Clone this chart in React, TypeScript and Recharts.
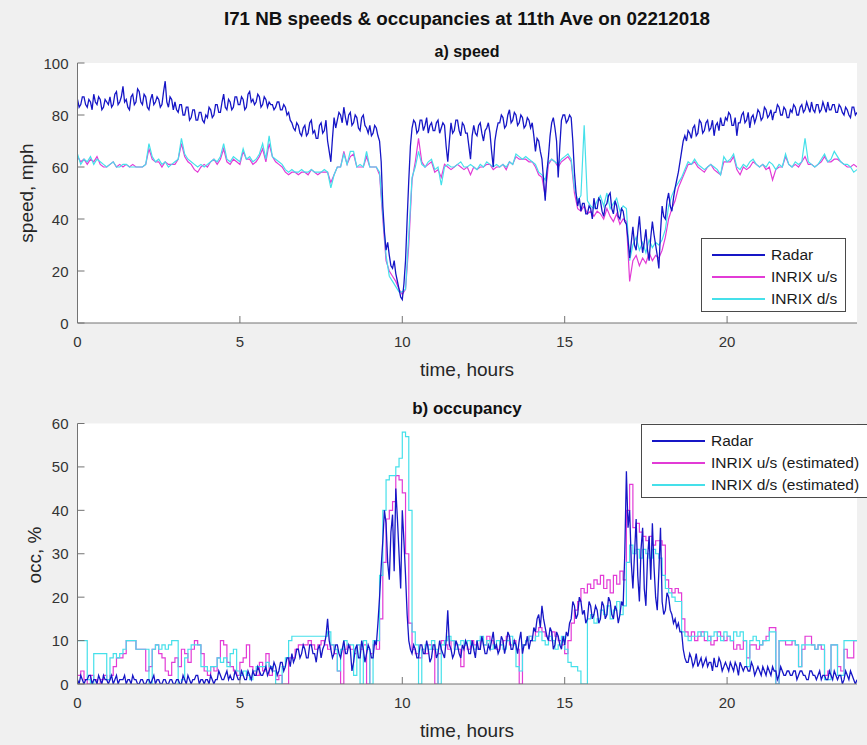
import { CartesianGrid, Line, LineChart, XAxis, YAxis } from "recharts";

// INRIX feeds are sampled every 6 minutes, the radar every 3 minutes (0:00 .. 24:00)
const HOURS = Array.from({ length: 241 }, (_, i) => i / 10);
const RADAR_HOURS = Array.from({ length: 481 }, (_, i) => i / 20);
const X_TICKS = [0, 5, 10, 15, 20];
const SPEED_TICKS = [0, 20, 40, 60, 80, 100];
const OCC_TICKS = [0, 10, 20, 30, 40, 50, 60];

// speed, mph
const speedRadar = [
  86, 83, 84, 87, 87, 84, 83, 86, 85, 82, 88, 85, 84, 87, 86, 82, 83, 86, 85, 84,
  87, 83, 84, 88, 89, 84, 85, 87, 91, 85, 86, 83, 82, 87, 88, 84, 85, 90, 89, 85,
  84, 88, 87, 83, 82, 86, 88, 84, 85, 87, 86, 83, 84, 89, 93, 85, 83, 87, 86, 82,
  85, 82, 81, 84, 84, 80, 80, 83, 83, 78, 79, 82, 82, 78, 78, 81, 81, 78, 77, 80,
  79, 83, 82, 79, 80, 84, 84, 81, 81, 85, 88, 83, 82, 86, 85, 82, 83, 87, 87, 84,
  84, 87, 86, 82, 83, 88, 89, 85, 86, 84, 85, 88, 87, 83, 84, 87, 86, 83, 85, 84,
  84, 82, 83, 85, 85, 82, 82, 84, 83, 80, 81, 78, 77, 75, 74, 77, 76, 73, 72, 75,
  76, 72, 73, 77, 78, 73, 74, 71, 71, 76, 77, 73, 74, 78, 70, 66, 62, 71, 79, 75,
  78, 81, 80, 77, 83, 79, 76, 80, 81, 76, 77, 80, 79, 75, 74, 79, 80, 76, 75, 73,
  76, 72, 73, 76, 75, 72, 70, 62, 45, 35, 28, 31, 26, 22, 21, 24, 19, 16, 13, 10,
  9, 15, 24, 40, 55, 68, 75, 78, 77, 73, 74, 78, 78, 74, 76, 79, 73, 76, 77, 74,
  74, 77, 78, 73, 75, 77, 76, 68, 62, 70, 77, 73, 74, 78, 78, 74, 72, 77, 76, 73,
  73, 68, 63, 72, 76, 73, 72, 76, 77, 73, 70, 74, 75, 77, 73, 66, 60, 70, 74, 77,
  77, 80, 79, 75, 76, 80, 82, 77, 78, 81, 80, 76, 77, 80, 79, 75, 76, 79, 78, 75,
  77, 72, 66, 71, 70, 66, 63, 55, 47, 58, 64, 72, 77, 79, 75, 70, 56, 68, 78, 80,
  80, 77, 78, 80, 79, 70, 58, 50, 45, 48, 43, 46, 46, 42, 42, 45, 44, 40, 48, 44,
  44, 48, 47, 43, 41, 45, 46, 49, 50, 44, 42, 47, 45, 41, 40, 44, 43, 39, 38, 32,
  25, 31, 37, 30, 28, 35, 41, 33, 27, 31, 36, 28, 24, 33, 39, 34, 30, 26, 21, 35,
  45, 41, 40, 47, 50, 45, 43, 48, 52, 55, 58, 62, 66, 70, 72, 70, 74, 73, 71, 75,
  76, 72, 73, 78, 77, 73, 74, 77, 78, 74, 75, 78, 72, 76, 77, 74, 79, 76, 76, 79,
  78, 81, 80, 76, 76, 79, 72, 77, 77, 80, 81, 77, 78, 81, 75, 79, 80, 77, 79, 82,
  81, 78, 79, 83, 82, 79, 80, 82, 78, 81, 81, 84, 83, 80, 80, 83, 82, 79, 79, 82,
  81, 84, 83, 80, 80, 83, 84, 81, 82, 85, 83, 81, 85, 82, 81, 84, 84, 81, 82, 85,
  83, 81, 85, 82, 82, 84, 84, 81, 81, 84, 83, 81, 80, 83, 82, 80, 79, 83, 83, 80,
  81,
];

const speedInrixUp = [
  64, 62, 63, 61, 63, 62, 64, 61, 60, 60,
  61, 62, 60, 61, 60, 61, 60, 61, 60, 60,
  60, 61, 67, 63, 62, 62, 60, 62, 61, 61,
  61, 63, 69, 64, 62, 61, 59, 58, 60, 61,
  60, 62, 63, 61, 63, 67, 62, 61, 63, 62,
  61, 66, 63, 63, 61, 62, 64, 67, 62, 69,
  64, 62, 61, 60, 58, 57, 58, 58, 57, 58,
  58, 57, 59, 58, 57, 58, 58, 58, 54, 57,
  60, 60, 66, 61, 64, 65, 60, 60, 60, 64,
  60, 60, 60, 57, 40, 24, 20, 18, 16, 13,
  11, 13, 30, 55, 62, 71, 62, 60, 61, 62,
  58, 59, 56, 61, 60, 59, 60, 61, 60, 59,
  60, 57, 60, 59, 60, 60, 61, 61, 59, 60,
  60, 61, 59, 62, 61, 64, 63, 63, 63, 62,
  62, 60, 57, 56, 49, 61, 63, 62, 60, 62,
  63, 64, 62, 50, 44, 43, 45, 42, 43, 41,
  43, 42, 40, 44, 41, 39, 42, 38, 40, 39,
  16, 24, 26, 22, 25, 23, 27, 24, 26, 25,
  28, 33, 40, 44, 47, 52, 55, 58, 61, 61,
  62, 60, 59, 58, 60, 61, 59, 58, 57, 62,
  62, 62, 64, 59, 57, 60, 59, 60, 62, 61,
  60, 61, 59, 60, 55, 59, 60, 60, 64, 61,
  60, 61, 60, 62, 64, 61, 61, 60, 61, 62,
  64, 62, 62, 63, 63, 62, 61, 60, 60, 61,
  60,
];

const speedInrixDown = [
  65, 61, 63, 62, 64, 61, 63, 62, 61, 60,
  61, 62, 60, 60, 61, 61, 60, 60, 60, 60,
  60, 61, 69, 64, 62, 63, 61, 62, 60, 61,
  62, 63, 71, 65, 63, 62, 61, 60, 61, 60,
  61, 62, 63, 62, 64, 69, 63, 62, 64, 63,
  62, 67, 63, 64, 62, 63, 65, 69, 63, 72,
  64, 63, 62, 61, 59, 58, 59, 58, 58, 59,
  58, 58, 59, 58, 58, 58, 59, 58, 52, 57,
  60, 60, 65, 61, 66, 66, 60, 61, 60, 66,
  60, 60, 60, 58, 42, 26, 18, 16, 14, 12,
  12, 13, 34, 56, 60, 66, 61, 60, 62, 63,
  59, 60, 53, 60, 61, 60, 60, 61, 62, 60,
  60, 61, 60, 59, 61, 60, 62, 61, 60, 61,
  60, 61, 60, 62, 61, 65, 64, 63, 64, 63,
  62, 61, 58, 57, 55, 62, 63, 62, 61, 63,
  64, 65, 63, 52, 47, 49, 76, 47, 45, 44,
  47, 49, 45, 50, 44, 46, 48, 43, 45, 44,
  24, 30, 33, 28, 31, 27, 32, 29, 31, 30,
  32, 36, 45, 49, 52, 54, 56, 59, 62, 61,
  63, 61, 60, 59, 60, 61, 60, 59, 57, 64,
  62, 63, 65, 60, 59, 61, 60, 62, 63, 61,
  60, 61, 60, 62, 61, 59, 61, 60, 65, 61,
  60, 62, 61, 62, 71, 62, 61, 60, 61, 63,
  65, 62, 63, 66, 64, 62, 61, 61, 60, 58,
  59,
];

// occupancy, %
const occRadar = [
  1, 0, 2, 1, 0, 1, 1, 2, 2, 0, 1, 1, 0, 2, 1, 0, 2, 1, 1, 0,
  1, 2, 0, 1, 2, 0, 1, 1, 1, 2, 0, 1, 1, 0, 2, 1, 1, 0, 0, 1,
  1, 0, 0, 1, 1, 0, 1, 2, 0, 1, 1, 0, 0, 1, 1, 0, 0, 1, 1, 0,
  0, 1, 1, 0, 0, 2, 1, 0, 2, 1, 0, 1, 1, 2, 2, 0, 1, 1, 0, 1,
  1, 0, 2, 1, 0, 1, 1, 3, 2, 1, 1, 2, 3, 1, 2, 1, 1, 3, 2, 1,
  1, 3, 2, 1, 1, 3, 2, 1, 3, 2, 2, 4, 3, 2, 2, 3, 4, 2, 3, 4,
  3, 5, 4, 2, 3, 5, 5, 3, 4, 6, 6, 4, 7, 5, 6, 8, 8, 6, 7, 9,
  8, 6, 6, 9, 9, 7, 7, 5, 8, 9, 6, 8, 9, 11, 15, 10, 8, 6, 7, 9,
  9, 7, 6, 8, 10, 7, 7, 9, 8, 3, 5, 8, 9, 6, 6, 10, 8, 5, 7, 9,
  8, 6, 6, 10, 9, 14, 20, 27, 33, 40, 37, 28, 24, 35, 39, 26, 45, 38, 30, 22,
  40, 33, 25, 16, 10, 8, 7, 9, 8, 6, 6, 9, 9, 7, 7, 10, 8, 5, 6, 9,
  9, 6, 7, 10, 8, 7, 6, 10, 17, 9, 8, 6, 7, 10, 9, 7, 6, 9, 8, 10,
  9, 7, 7, 10, 8, 6, 10, 8, 8, 11, 9, 7, 7, 9, 8, 10, 12, 8, 9, 7,
  8, 11, 10, 7, 9, 12, 11, 8, 8, 10, 9, 7, 10, 12, 7, 9, 9, 11, 8, 10,
  10, 13, 12, 15, 16, 13, 18, 15, 13, 11, 10, 13, 12, 8, 9, 12, 11, 9, 8, 11,
  9, 12, 11, 14, 15, 19, 18, 15, 16, 20, 19, 16, 17, 14, 15, 19, 18, 15, 16, 18,
  17, 14, 15, 19, 18, 15, 16, 20, 19, 16, 15, 18, 17, 14, 16, 19, 18, 30, 49, 36,
  40, 28, 22, 30, 38, 25, 19, 31, 36, 22, 18, 29, 34, 24, 37, 27, 20, 17, 26, 36,
  19, 16, 17, 21, 20, 17, 16, 14, 15, 13, 14, 12, 12, 8, 6, 5, 5, 7, 6, 4,
  5, 7, 4, 5, 6, 4, 5, 6, 4, 5, 5, 3, 6, 4, 4, 6, 5, 3, 4, 5,
  4, 3, 5, 4, 3, 5, 4, 2, 5, 4, 3, 4, 4, 3, 3, 5, 4, 2, 3, 4,
  3, 2, 4, 3, 2, 4, 3, 2, 4, 3, 3, 1, 2, 4, 3, 2, 2, 3, 3, 2,
  2, 3, 3, 1, 2, 3, 3, 2, 2, 1, 1, 3, 3, 2, 2, 1, 2, 3, 1, 2,
  2, 1, 1, 3, 2, 1, 3, 2, 1, 2, 2, 0, 1, 3, 2, 1, 3, 2, 1, 0,
  1,
];

const occInrixUp = [
  2, 3, 1, 0, 2, 1, 0, 1, 2, 1,
  2, 4, 6, 6, 7, 10, 10, 10, 8, 8,
  8, 3, 4, 8, 9, 7, 6, 3, 2, 5,
  6, 4, 8, 7, 5, 8, 10, 9, 7, 3,
  2, 4, 3, 6, 10, 9, 5, 4, 3, 2,
  5, 6, 9, 4, 3, 2, 5, 3, 7, 2,
  3, 1, 2, 0, 0, 6, 6, 8, 9, 9,
  9, 10, 9, 8, 9, 10, 9, 8, 9, 7,
  3, 0, 8, 9, 8, 7, 9, 8, 9, 0,
  7, 9, 8, 15, 28, 38, 40, 42, 48, 47,
  44, 30, 14, 8, 7, 6, 8, 7, 9, 8,
  0, 7, 10, 9, 8, 10, 9, 8, 4, 9,
  8, 10, 9, 8, 10, 9, 11, 10, 9, 8,
  9, 10, 11, 9, 10, 8, 0, 9, 10, 11,
  10, 12, 13, 12, 11, 10, 12, 11, 10, 9,
  7, 10, 14, 17, 19, 22, 21, 23, 22, 24,
  23, 25, 22, 24, 21, 25, 23, 26, 24, 40,
  46, 36, 37, 35, 34, 33, 34, 32, 33, 33,
  32, 24, 22, 21, 22, 21, 15, 12, 11, 12,
  10, 11, 12, 10, 11, 9, 10, 12, 11, 10,
  11, 10, 8, 9, 8, 10, 6, 9, 9, 8,
  9, 10, 11, 13, 13, 0, 10, 10, 9, 9,
  10, 9, 4, 8, 11, 11, 9, 8, 9, 8,
  2, 3, 9, 9, 4, 3, 8, 6, 6, 10,
  10,
];

const occInrixDown = [
  10, 10, 10, 1, 0, 7, 7, 7, 7, 1,
  6, 7, 6, 7, 8, 10, 10, 10, 8, 8,
  8, 8, 0, 8, 9, 8, 9, 8, 9, 10,
  10, 0, 1, 6, 8, 9, 9, 9, 4, 4,
  3, 4, 4, 6, 5, 6, 4, 7, 8, 3,
  2, 3, 2, 1, 3, 4, 4, 4, 5, 4,
  3, 0, 0, 4, 6, 10, 11, 11, 11, 11,
  11, 11, 11, 11, 11, 11, 11, 12, 9, 8,
  3, 8, 10, 9, 9, 2, 9, 0, 10, 8,
  0, 10, 10, 25, 40, 47, 48, 48, 50, 52,
  58, 57, 40, 12, 9, 0, 8, 9, 8, 10,
  8, 0, 9, 10, 11, 10, 8, 9, 10, 9,
  10, 9, 8, 10, 11, 9, 10, 8, 9, 10,
  9, 8, 10, 11, 9, 4, 3, 9, 10, 11,
  10, 11, 12, 10, 9, 11, 10, 8, 9, 11,
  8, 5, 4, 4, 3, 0, 0, 15, 16, 14,
  15, 17, 16, 18, 15, 17, 19, 16, 18, 28,
  32, 30, 31, 29, 31, 30, 29, 31, 30, 29,
  25, 22, 21, 20, 19, 19, 12, 11, 10, 11,
  11, 12, 11, 12, 10, 11, 12, 11, 10, 12,
  11, 10, 12, 11, 12, 10, 4, 10, 11, 10,
  9, 10, 10, 12, 12, 0, 10, 10, 10, 10,
  10, 9, 4, 9, 9, 9, 9, 8, 9, 9,
  1, 1, 9, 9, 2, 2, 10, 10, 10, 10,
  10,
];

const W = 867;
const H = 745;
const FONT = '"Liberation Sans", Arial, Helvetica, sans-serif';
const AXIS = "#737373";
const TEXT = "#333333";
const RADAR = "#1616c6";
const UP = "#e23bd6";
const DOWN = "#45e0ea";
const TICK_LEN = 7;

interface InrixRow {
  t: number;
  up: number;
  down: number;
}

interface RadarRow {
  t: number;
  radar: number;
}

const speedInrixRows: InrixRow[] = HOURS.map((t, i) => ({ t, up: speedInrixUp[i], down: speedInrixDown[i] }));
const speedRadarRows: RadarRow[] = RADAR_HOURS.map((t, i) => ({ t, radar: speedRadar[i] }));
const occInrixRows: InrixRow[] = HOURS.map((t, i) => ({ t, up: occInrixUp[i], down: occInrixDown[i] }));
const occRadarRows: RadarRow[] = RADAR_HOURS.map((t, i) => ({ t, radar: occRadar[i] }));

// MATLAB-style ticks: short marks pointing into the plot box
function bottomTick({ x, y, payload }: any) {
  return (
    <g>
      <line x1={x} y1={y} x2={x} y2={y - TICK_LEN} stroke={AXIS} />
      <text x={x} y={y + 24} textAnchor="middle" fontSize={15} fill={TEXT} fontFamily={FONT}>
        {payload.value}
      </text>
    </g>
  );
}

function topTick({ x, y }: any) {
  return <line x1={x} y1={y} x2={x} y2={y + TICK_LEN} stroke={AXIS} />;
}

function leftTick({ x, y, payload }: any) {
  return (
    <g>
      <line x1={x} y1={y} x2={x + TICK_LEN} y2={y} stroke={AXIS} />
      <text x={x - 9} y={y + 5.5} textAnchor="end" fontSize={15} fill={TEXT} fontFamily={FONT}>
        {payload.value}
      </text>
    </g>
  );
}

function rightTick({ x, y }: any) {
  return <line x1={x} y1={y} x2={x - TICK_LEN} y2={y} stroke={AXIS} />;
}

interface PanelProps {
  top: number;
  height: number;
  plotTop: number;
  inrix: InrixRow[];
  radar: RadarRow[];
  yMax: number;
  yTicks: number[];
  steppedInrix: boolean;
}

function Panel({ top, height, plotTop, inrix, radar, yMax, yTicks, steppedInrix }: PanelProps) {
  const inrixCurve = steppedInrix ? "stepAfter" : "linear";
  const axisLine = { stroke: AXIS, strokeWidth: 1 };
  return (
    <div style={{ position: "absolute", left: 0, top }}>
      <LineChart
        width={W}
        height={height}
        data={inrix}
        margin={{ top: plotTop, right: 10, bottom: 0, left: 0 }}
      >
        <CartesianGrid horizontal={false} vertical={false} fill="#ffffff" />
        <XAxis
          dataKey="t"
          type="number"
          domain={[0, 24]}
          ticks={X_TICKS}
          interval={0}
          allowDataOverflow
          height={30}
          tickSize={0}
          tickMargin={0}
          tickLine={false}
          axisLine={axisLine}
          tick={bottomTick}
        />
        <XAxis
          xAxisId="top"
          dataKey="t"
          orientation="top"
          type="number"
          domain={[0, 24]}
          ticks={X_TICKS}
          interval={0}
          allowDataOverflow
          height={0}
          tickSize={0}
          tickMargin={0}
          tickLine={false}
          axisLine={axisLine}
          tick={topTick}
        />
        <YAxis
          type="number"
          domain={[0, yMax]}
          ticks={yTicks}
          interval={0}
          allowDataOverflow
          width={77.5}
          tickSize={0}
          tickMargin={0}
          tickLine={false}
          axisLine={axisLine}
          tick={leftTick}
        />
        <YAxis
          yAxisId="right"
          orientation="right"
          type="number"
          domain={[0, yMax]}
          ticks={yTicks}
          interval={0}
          allowDataOverflow
          width={0}
          tickSize={0}
          tickMargin={0}
          tickLine={false}
          axisLine={axisLine}
          tick={rightTick}
        />
        <Line
          dataKey="up"
          type={inrixCurve}
          stroke={UP}
          strokeWidth={1.2}
          dot={false}
          activeDot={false}
          isAnimationActive={false}
        />
        <Line
          dataKey="down"
          type={inrixCurve}
          stroke={DOWN}
          strokeWidth={1.2}
          dot={false}
          activeDot={false}
          isAnimationActive={false}
        />
        <Line
          data={radar}
          dataKey="radar"
          type="linear"
          stroke={RADAR}
          strokeWidth={1.3}
          dot={false}
          activeDot={false}
          isAnimationActive={false}
        />
      </LineChart>
    </div>
  );
}

interface LegendProps {
  left: number;
  top: number;
  width: number;
  names: string[];
}

function LegendBox({ left, top, width, names }: LegendProps) {
  const colors = [RADAR, UP, DOWN];
  return (
    <div
      style={{
        position: "absolute",
        left,
        top,
        width,
        height: 74,
        boxSizing: "border-box",
        background: "#ffffff",
        border: "1px solid #4a4a4a",
        paddingTop: 5,
        fontFamily: FONT,
        fontSize: 15.5,
        color: "#1a1a1a",
      }}
    >
      {names.map((name, i) => (
        <div key={name} style={{ display: "flex", alignItems: "center", height: 22, whiteSpace: "nowrap" }}>
          <span
            style={{
              display: "inline-block",
              width: 53,
              height: 2,
              marginLeft: 10,
              marginRight: 6,
              background: colors[i],
            }}
          />
          {name}
        </div>
      ))}
    </div>
  );
}

function Caption({ x, y, text, size, bold, rotate }: { x: number; y: number; text: string; size: number; bold?: boolean; rotate?: boolean }) {
  return (
    <div
      style={{
        position: "absolute",
        left: x,
        top: y,
        transform: `translate(-50%, -50%)${rotate ? " rotate(-90deg)" : ""}`,
        whiteSpace: "nowrap",
        fontFamily: FONT,
        fontSize: size,
        fontWeight: bold ? 700 : 400,
        color: bold ? "#111111" : "#262626",
        lineHeight: 1.15,
      }}
    >
      {text}
    </div>
  );
}

export default function App() {
  return (
    <div
      style={{
        position: "absolute",
        left: 0,
        top: 0,
        width: W,
        height: H,
        overflow: "hidden",
        background: "#f0f0f0",
      }}
    >
      <Panel
        top={0}
        height={353}
        plotTop={63}
        inrix={speedInrixRows}
        radar={speedRadarRows}
        yMax={100}
        yTicks={SPEED_TICKS}
        steppedInrix={false}
      />
      <Panel
        top={380}
        height={334}
        plotTop={43.5}
        inrix={occInrixRows}
        radar={occRadarRows}
        yMax={60}
        yTicks={OCC_TICKS}
        steppedInrix
      />

      <Caption x={467} y={18.5} text="I71 NB speeds & occupancies at 11th Ave on 02212018" size={18.8} bold />
      <Caption x={467} y={52} text="a) speed" size={16} bold />
      <Caption x={467} y={409} text="b) occupancy" size={17} bold />

      <Caption x={467} y={370} text="time, hours" size={19} />
      <Caption x={467} y={731} text="time, hours" size={19} />
      <Caption x={27} y={193} text="speed, mph" size={19} rotate />
      <Caption x={35} y={555} text="occ, %" size={19} rotate />

      <LegendBox left={701} top={238} width={145} names={["Radar", "INRIX u/s", "INRIX d/s"]} />
      <LegendBox
        left={641}
        top={424}
        width={240}
        names={["Radar", "INRIX u/s (estimated)", "INRIX d/s (estimated)"]}
      />
    </div>
  );
}
